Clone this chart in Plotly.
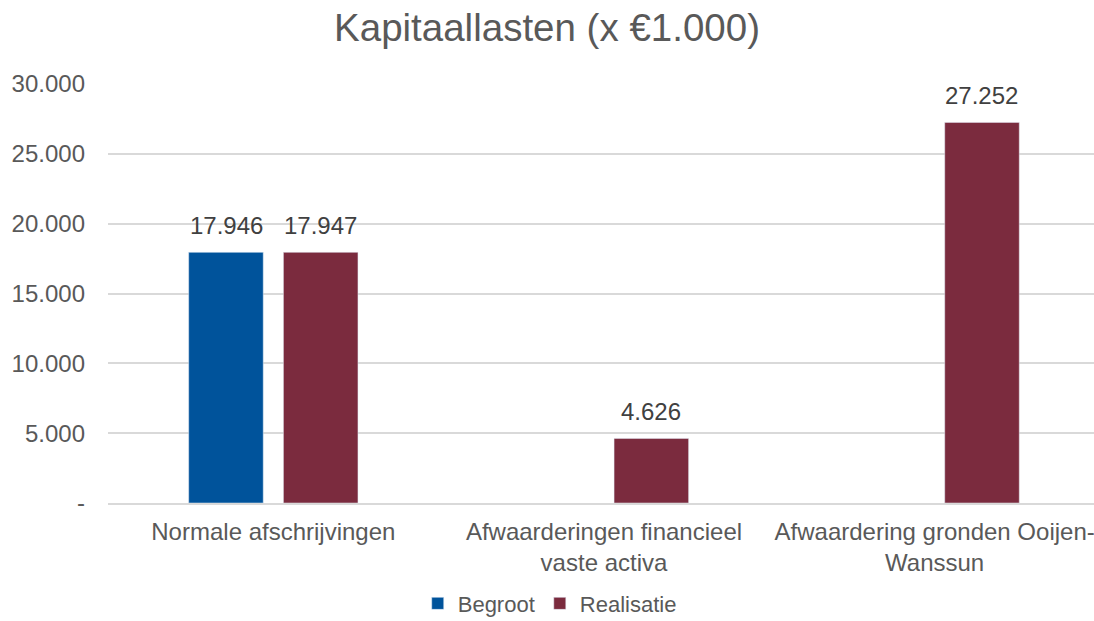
import plotly.graph_objects as go

categories = ["Normale afschrijvingen",
              "Afwaarderingen financieel<br>vaste activa",
              "Afwaardering gronden Ooijen-<br>Wanssun"]
begroot = [17946, None, None]
realisatie = [17947, 4626, 27252]
tick_vals = [0, 5000, 10000, 15000, 20000, 25000, 30000]
tick_text = ["-", "5.000", "10.000", "15.000", "20.000", "25.000", "30.000"]


def fmt(v):
    return "" if v is None else f"{v:,}".replace(",", ".")


FONT = "Liberation Sans, Arial, sans-serif"
TXT = "#595959"
LBL = "#404040"

fig = go.Figure()
fig.add_trace(go.Bar(name="Begroot", x=categories, y=begroot,
                     marker=dict(color="#00539B")))
fig.add_trace(go.Bar(name="Realisatie", x=categories, y=realisatie,
                     marker=dict(color="#7B2B3E")))

# value labels above bars
for vals, shift in ((begroot, -47), (realisatie, 47)):
    for c, v in zip(categories, vals):
        if v is None:
            continue
        fig.add_annotation(x=c, y=v, text=fmt(v), showarrow=False,
                           xanchor="center", yanchor="bottom",
                           xshift=shift, yshift=11,
                           font=dict(size=24, color=LBL, family=FONT))

fig.update_layout(
    width=1094, height=621,
    paper_bgcolor="white", plot_bgcolor="white",
    barmode="group", bargap=0.427, bargroupgap=0.213,
    margin=dict(l=108, r=0, t=84, b=118, autoexpand=False),
    title=dict(text="Kapitaallasten (x €1.000)", x=0.5, xanchor="center",
               y=0.955, yanchor="middle",
               font=dict(size=38.5, color=TXT, family=FONT)),
    font=dict(family=FONT, color=TXT),
    legend=dict(orientation="h", x=0.448, xanchor="center", y=-0.24, yanchor="middle",
                font=dict(size=22, color=TXT, family=FONT),
                itemwidth=30, traceorder="normal"),
)
fig.update_xaxes(
    range=[-0.5, 2.482], automargin=False,
    showgrid=False, showline=True, linecolor="#d9d9d9", linewidth=1.5,
    ticks="", tickfont=dict(size=24, color=TXT, family=FONT),
    ticklabelstandoff=6,
)
fig.update_yaxes(
    range=[0, 30000], tickvals=tick_vals, ticktext=tick_text, automargin=False,
    showgrid=True, gridcolor="#d9d9d9", gridwidth=1.5,
    zeroline=False, showline=False, ticks="",
    tickfont=dict(size=24, color=TXT, family=FONT),
    ticklabelstandoff=22,
)

fig.write_html("out.html")
